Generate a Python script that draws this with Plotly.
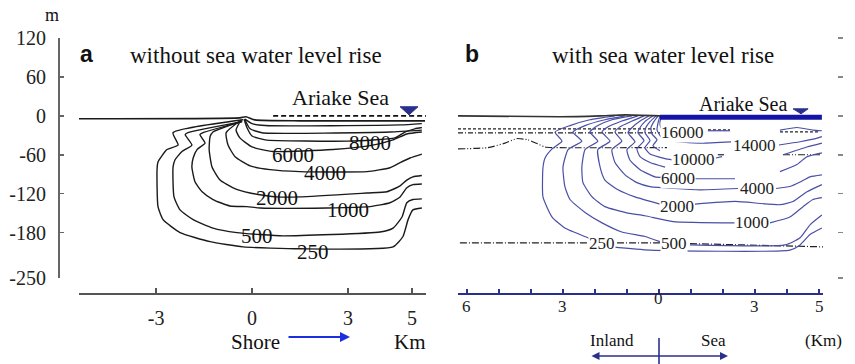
import plotly.graph_objects as go

# ---------------- shared ticks ----------------
y_ticks = [120, 60, 0, -60, -120, -180, -250]
y_tick_labels = ["120", "60", "0", "-60", "-120", "-180", "-250"]
a_xticks = [-3, 0, 3, 5]
a_xtick_labels = ["-3", "0", "3", "5"]
b_xticks = [-6, -5, -4, -3, -2, -1, 0, 1, 2, 3, 4, 5]
b_xtick_label_vals = [-6, -3, 0, 3, 5]
b_xtick_labels = ["6", "3", "0", "3", "5"]

# ---------------- panel a: without sea water level rise (x km, depth m) ----------------
a_surface_x = [-5.41, -0.38, -0.19, 0.09, 1.5, 5.41]
a_surface_y = [-4.6, -3.1, -1.5, -6.2, -7.7, -7.7]
a_sea_x = [0.66, 5.47]
a_sea_y = [0, 0]
a_tri_x = [4.63, 5.19, 4.91, 4.63]
a_tri_y = [14, 14, 1.5, 14]

a_c250_x = [-0.28, -2.47, -2.31, -2.66, -2.94, -2.97, -2.94, -2.78, -2.25, -1.31, -0.28, 1.5, 4.41, 4.72, 4.88, 5.03, 5.31]
a_c250_y = [-6, -26, -45, -52, -71, -83, -140, -160, -180, -194, -202, -205, -202, -186, -160, -145, -142]
a_c500_x = [-0.31, -2.0, -2.09, -1.88, -2.19, -2.41, -2.47, -2.44, -2.25, -1.84, -1.22, -0.47, 0.25, 0.97, 4.0, 4.41, 4.69, 4.84, 5.03, 5.31]
a_c500_y = [-9, -26, -29, -45, -55, -68, -79, -125, -145, -160, -173, -180, -183, -185, -179, -173, -156, -134, -129, -128]
a_c1000_x = [-0.31, -1.53, -1.63, -1.47, -1.72, -1.84, -1.88, -1.78, -1.56, -1.22, -0.69, -0.16, 0.25, 2.34, 3.69, 4.31, 4.63, 4.84, 5.03, 5.31]
a_c1000_y = [-9, -26, -29, -42, -52, -65, -79, -102, -117, -129, -139, -140, -142, -142, -140, -134, -125, -111, -106, -105]
a_c2000_x = [-0.31, -1.22, -1.31, -1.34, -1.25, -1.0, -0.59, -0.06, 0.78, 1.5, 3.59, 4.22, 4.63, 4.84, 5.03, 5.31]
a_c2000_y = [-8, -25, -32, -52, -79, -99, -111, -119, -125, -125, -119, -117, -108, -99, -94, -92]
a_c4000_x = [-0.38, -0.81, -0.75, -0.53, -0.06, 0.56, 1.5, 3.59, 4.31, 4.63, 4.94, 5.31]
a_c4000_y = [-8, -26, -45, -63, -77, -83, -86, -86, -80, -72, -65, -59]
a_c6000_x = [-0.34, -0.5, -0.38, 0, 0.66, 2.53, 3.69, 4.41, 4.84, 5.31]
a_c6000_y = [-6, -22, -34, -48, -55, -52, -46, -37, -28, -25]
a_c8000_x = [-0.25, -0.16, 0, 0.41, 3.0, 4.47, 4.78, 5.09, 5.31]
a_c8000_y = [-5, -18, -31, -37, -39, -34, -25, -20, -18]
a_c_in1_x = [-0.22, 0, 0.41, 4.63, 5.31]
a_c_in1_y = [-5, -12, -15, -14, -12]
a_c_in2_x = [-0.22, -0.06, 0.31, 4.31, 5.31]
a_c_in2_y = [-6, -20, -26, -25, -22]

a_labels = ["8000", "6000", "4000", "2000", "1000", "500", "250"]
a_label_x = [3.69, 1.28, 2.28, 0.78, 3.0, 0.16, 1.9]
a_label_y = [-41.6, -60, -88, -126, -145, -186, -210]

# ---------------- panel b: with sea water level rise (x km, inland negative) ----------------
b_surface_x = [-6.28, -3.09, -1.84, -1.06, 0.03]
b_surface_y = [0, -1.5, 0, 1.5, 0]
b_sea_x = [0.03, 5.09]
b_sea_y = [-2.3, -2.3]
b_tri_x = [4.19, 4.66, 4.44, 4.19]
b_tri_y = [10.8, 10.8, 3.1, 10.8]

b_c250_x = [-1.375, -2.16, -2.78, -3.25, -3.03, -3.34, -3.56, -3.625, -3.625, -3.34, -2.94, -2.22, -1.97, None, -1.47, -0.28, 4.09, 4.41, 4.72, 5.09]
b_c250_y = [0, -6, -15, -25, -39, -51, -65, -80, -125, -156, -173, -188, -193, None, -202, -207, -207, -199, -183, -173]
b_c500_x = [-1.06, -1.69, -2.31, -2.69, -2.41, -2.84, -3.0, -2.94, -2.78, -2.31, -1.78, -1.16, -0.44, 0.03, None, 0.97, 3.94, 4.41, 4.72, 5.09]
b_c500_y = [0, -6, -15, -25, -39, -52, -79, -109, -129, -149, -165, -179, -186, -194, None, -199, -199, -188, -168, -153]
b_c1000_x = [-0.84, -1.47, -1.91, -2.16, -1.91, -2.31, -2.41, -2.375, -2.09, -1.69, -0.97, -0.44, 0.44, 2.375, None, 3.47, 4.09, 4.5, 4.81, 5.09]
b_c1000_y = [0, -6, -15, -25, -39, -52, -79, -103, -125, -140, -150, -154, -163, -165, None, -165, -156, -140, -129, -126]
b_c2000_x = [-0.66, -1.16, -1.59, -1.78, -1.53, -1.91, -1.84, -1.69, -1.28, -0.75, 0.03, None, 1.125, 2.375, 3.78, 4.19, 4.625, 5.09]
b_c2000_y = [0, -8, -17, -25, -39, -52, -79, -99, -114, -125, -136, None, -136, -132, -137, -132, -117, -106]
b_c4000_x = [-0.47, -0.84, -1.22, -1.375, -1.16, -1.47, -1.375, -1.06, -0.69, -0.28, 1.28, 2.47, None, 3.66, 4.09, 4.41, 4.72, 5.09]
b_c4000_y = [0, -8, -17, -25, -39, -52, -72, -91, -103, -109, -114, -112, None, -112, -109, -102, -94, -91]
b_c6000_x = [-0.31, -0.59, -0.84, -0.97, -0.75, -1.0, -0.91, -0.59, -0.125, 0.09, None, 1.125, 2.375, None, 3.78, 4.31, 4.625, 5.09]
b_c6000_y = [0, -8, -18, -26, -40, -52, -68, -83, -94, -95, None, -97, -97, None, -86, -75, -63, -57]
b_c8000_x = [-0.19, -0.44, -0.59, -0.66, -0.47, -0.69, -0.59, -0.28, 0.19]
b_c8000_y = [0, -9, -18, -26, -38, -51, -63, -72, -79]
b_c10000_x = [-0.09, -0.28, -0.41, -0.44, -0.28, -0.44, -0.28, 0.19, 0.41, None, 1.78, 1.97, None, 3.875, 4.625, 5.09]
b_c10000_y = [0, -9, -18, -26, -38, -49, -59, -66, -68, None, -65, -63, None, -60, -48, -42]
b_c12000_x = [-0.03, -0.16, -0.25, -0.22, -0.06, -0.19, 0.03]
b_c12000_y = [0, -9, -18, -28, -37, -46, -54]
b_c14000_x = [0.03, -0.03, -0.06, 0.06, 0.28, 1.28, 2.25, None, 3.75, 4.41, 4.97, 5.09]
b_c14000_y = [0, -11, -22, -32, -38, -42, -40, None, -45, -40, -34, -32]
b_c16000_x = [0.09, 0.03, 0.06, 0.22, None, 1.53, 2.22, None, 3.78, 4.31, 4.81, 5.09]
b_c16000_y = [0, -9, -18, -25, None, -23, -23, None, -22, -18, -22, -23]

# layer boundaries (black broken lines)
b_d1_x = [-6.28, -0.12, None, 1.53, 2.22, None, 3.78, 5.03]
b_d1_y = [-20, -20, None, -21.6, -21.6, None, -24.7, -24.7]
b_d2_x = [-6.28, 0.03]
b_d2_y = [-26.2, -26.2]
b_d3_x = [-6.28, -5.34, -4.81, -4.44, -4.09, -3.56, -3.25, 0.25, None, 1.84, 2.03, None, 3.875, 5.09]
b_d3_y = [-51, -49, -42, -35, -37, -48, -49, -49, None, -60, -60, None, -60, -60]
b_d4_x = [-6.22, -2.22, None, -1.31, 0.03, None, 0.97, 5.125]
b_d4_y = [-196, -196, None, -196, -196, None, -197, -202]

b_labels = ["16000", "14000", "10000", "6000", "4000", "2000", "1000", "500", "250"]
b_label_x = [0.72, 3.0, 1.09, 0.59, 3.06, 0.56, 2.91, 0.47, -1.78]
b_label_y = [-26, -45, -68, -97, -112, -139, -165, -197, -197]

# ---------------- figure ----------------
W, H = 855, 364
SERIF = "Liberation Serif"
SANS = "Liberation Sans"
BLUE_C = "#4a4fa6"
NAVY = "#2b2f8c"

fig = go.Figure()


def line(x, y, xa, ya, color, width, dash=None, smooth=True):
    fig.add_trace(go.Scatter(
        x=x, y=y, xaxis=xa, yaxis=ya, mode="lines",
        line=dict(color=color, width=width, dash=dash,
                  shape="spline" if smooth else "linear", smoothing=0.5),
        connectgaps=False, hoverinfo="skip", showlegend=False))


# panel a
line(a_surface_x, a_surface_y, "x", "y", "#1a1a1a", 1.6)
for cx, cy in [(a_c250_x, a_c250_y), (a_c500_x, a_c500_y), (a_c1000_x, a_c1000_y),
               (a_c2000_x, a_c2000_y), (a_c4000_x, a_c4000_y), (a_c6000_x, a_c6000_y),
               (a_c8000_x, a_c8000_y), (a_c_in1_x, a_c_in1_y), (a_c_in2_x, a_c_in2_y)]:
    line(cx, cy, "x", "y", "#1a1a1a", 1.4)
line(a_sea_x, a_sea_y, "x", "y", "#111111", 1.6, dash="5px,3px", smooth=False)
fig.add_trace(go.Scatter(x=a_tri_x, y=a_tri_y, xaxis="x", yaxis="y", mode="lines",
                         fill="toself", fillcolor=NAVY, line=dict(color=NAVY, width=1),
                         hoverinfo="skip", showlegend=False))

# panel b
line(b_d1_x, b_d1_y, "x2", "y2", "#222222", 1.2, dash="3px,2px", smooth=False)
line(b_d2_x, b_d2_y, "x2", "y2", "#222222", 1.2, dash="5px,2px,1px,2px", smooth=False)
line(b_d3_x, b_d3_y, "x2", "y2", "#222222", 1.2, dash="7px,2px,1px,2px,1px,2px")
line(b_d4_x, b_d4_y, "x2", "y2", "#222222", 1.2, dash="7px,2px,1px,2px", smooth=False)
for cx, cy in [(b_c250_x, b_c250_y), (b_c500_x, b_c500_y), (b_c1000_x, b_c1000_y),
               (b_c2000_x, b_c2000_y), (b_c4000_x, b_c4000_y), (b_c6000_x, b_c6000_y),
               (b_c8000_x, b_c8000_y), (b_c10000_x, b_c10000_y), (b_c12000_x, b_c12000_y),
               (b_c14000_x, b_c14000_y), (b_c16000_x, b_c16000_y)]:
    line(cx, cy, "x2", "y2", BLUE_C, 1.2)
line(b_surface_x, b_surface_y, "x2", "y2", "#333333", 1.6)
line(b_sea_x, b_sea_y, "x2", "y2", "#1414a8", 5, smooth=False)
fig.add_trace(go.Scatter(x=b_tri_x, y=b_tri_y, xaxis="x2", yaxis="y2", mode="lines",
                         fill="toself", fillcolor=NAVY, line=dict(color=NAVY, width=1),
                         hoverinfo="skip", showlegend=False))

ann = []
for t, x, y in zip(a_labels, a_label_x, a_label_y):
    ann.append(dict(x=x, y=y, xref="x", yref="y", text=t, showarrow=False,
                    font=dict(family=SERIF, size=21, color="#111")))
for t, x, y in zip(b_labels, b_label_x, b_label_y):
    ann.append(dict(x=x, y=y, xref="x2", yref="y2", text=t, showarrow=False,
                    bgcolor="white", borderpad=0,
                    font=dict(family=SERIF, size=17, color="#222")))
for v, t in zip(b_xtick_label_vals, b_xtick_labels):
    ypix = 310 if v == 0 else 318
    ann.append(dict(x=v, y=1 - ypix / H, xref="x2", yref="paper", text=t, showarrow=False,
                    font=dict(family=SERIF, size=17, color="#222")))


def ptext(text, xp, yp, size, family=SERIF, color="#111", xanchor="center", bold=False):
    if bold:
        text = "<b>" + text + "</b>"
    ann.append(dict(x=xp / W, y=1 - yp / H, xref="paper", yref="paper", text=text,
                    showarrow=False, xanchor=xanchor, yanchor="middle",
                    font=dict(family=family, size=size, color=color)))


ptext("m", 52, 15, 18)
ptext("a", 86, 54, 23, family=SANS, bold=True)
ptext("without sea water level rise", 128, 55, 23, xanchor="left")
ptext("b", 472, 54, 23, family=SANS, bold=True)
ptext("with sea water level rise", 550, 55, 23, xanchor="left")
ptext("Ariake Sea", 340, 98, 22)
ptext("Ariake Sea", 743, 104, 20)
ptext("Shore", 255, 342, 21)
ptext("Km", 410, 342, 21)
ptext("Inland", 612, 340, 17)
ptext("Sea", 713, 340, 17)
ptext("(Km)", 823, 340, 17)

# arrows
ann.append(dict(x=350 / W, y=1 - 337 / H, xref="paper", yref="paper", ax=-63, ay=0,
                axref="pixel", ayref="pixel", text="", showarrow=True, arrowhead=2,
                arrowsize=1, arrowwidth=2, arrowcolor="#1b2ee0"))
ann.append(dict(x=728 / W, y=1 - 356 / H, xref="paper", yref="paper", ax=-138, ay=0,
                text="", showarrow=True, arrowhead=2, arrowside="end+start",
                arrowsize=1, arrowwidth=1.6, arrowcolor=NAVY))

shapes = [dict(type="line", xref="paper", yref="paper", x0=659 / W, x1=659 / W,
               y0=1 - 338 / H, y1=0, line=dict(color=NAVY, width=1.6))]

ydom = [1 - 278 / H, 1 - 38 / H]
fig.update_layout(
    template="none",
    width=W, height=H, margin=dict(l=0, r=0, t=0, b=0, pad=0, autoexpand=False),
    paper_bgcolor="white", plot_bgcolor="rgba(0,0,0,0)", showlegend=False,
    annotations=ann, shapes=shapes,
    xaxis=dict(domain=[79 / W, 426 / W], range=[-5.41, 5.44], anchor="free",
               position=1 - 293 / H, showline=True, linecolor="#555", linewidth=1.5,
               ticks="inside", ticklen=5, tickwidth=1.5, tickcolor="#555",
               tickvals=a_xticks, ticktext=a_xtick_labels, ticklabelstandoff=6,
               automargin=False,
               tickfont=dict(family=SERIF, size=20, color="#222"),
               showgrid=False, zeroline=False),
    yaxis=dict(domain=ydom, range=[-250, 120], anchor="free", position=58 / W,
               showline=True, linecolor="#666", linewidth=1.8, ticks="inside",
               ticklen=4, tickwidth=1.5, tickcolor="#666", tickvals=y_ticks,
               ticktext=y_tick_labels, ticklabelstandoff=8, automargin=False,
               tickfont=dict(family=SERIF, size=20, color="#222"),
               showgrid=False, zeroline=False),
    xaxis2=dict(domain=[458 / W, 823 / W], range=[-6.28, 5.125], anchor="free",
                position=1 - 293 / H, showline=True, linecolor=NAVY, linewidth=1.5,
                ticks="inside", ticklen=4, tickwidth=1.2, tickcolor=NAVY, automargin=False,
                tickvals=b_xticks, showticklabels=False, showgrid=False, zeroline=False),
    yaxis2=dict(domain=ydom, range=[-250, 120], anchor="free", position=837 / W,
                side="right", showline=False, ticks="outside", ticklen=5, automargin=False,
                tickwidth=1.5, tickcolor="#888", tickvals=y_ticks,
                showticklabels=False, showgrid=False, zeroline=False),
)

fig.write_html("out.html", config={"displayModeBar": False, "staticPlot": True},
               post_script="document.body.style.margin='0';document.body.style.overflow='hidden';")
